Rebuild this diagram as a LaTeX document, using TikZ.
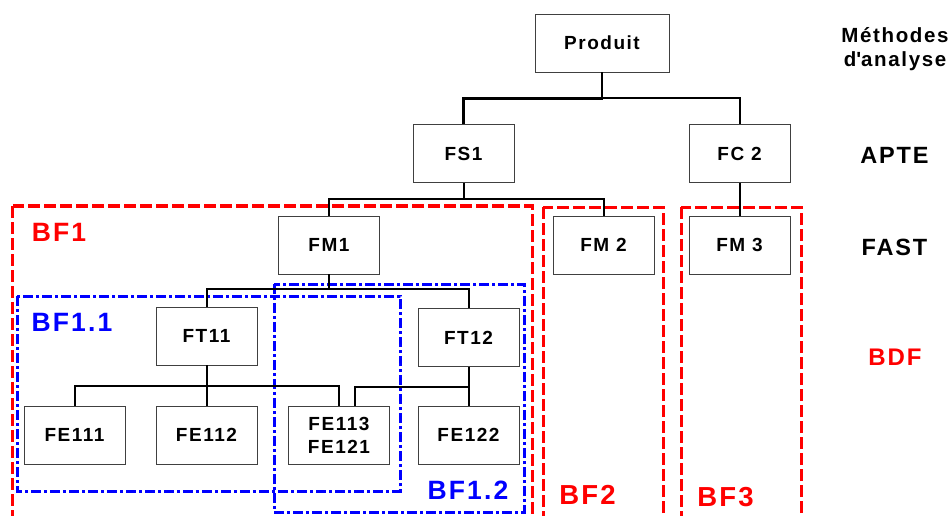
\documentclass[tikz,border=0pt]{standalone}
\usepackage{fontspec}
\setmainfont{Liberation Sans}[LetterSpace=8]
\begin{document}
\begin{tikzpicture}[x=1pt,y=-1pt,
  box/.style={draw=black!75, line width=0.9pt, fill=white, minimum width=101pt, minimum height=58pt, inner sep=0pt, align=center, font=\fontsize{19}{23}\selectfont\bfseries},
  conn/.style={draw=black, line width=2pt},
  bigconn/.style={draw=black, line width=2.4pt},
  redbox/.style={draw=red, line width=3pt, dash pattern=on 12pt off 4pt},
  bluebox/.style={draw=blue, line width=3pt, dash pattern=on 10pt off 3pt on 3pt off 3pt},
  redlbl/.style={text=red, font=\fontsize{26.5}{28}\selectfont\bfseries, inner sep=0pt},
  bluelbl/.style={text=blue, font=\fontsize{26.5}{28}\selectfont\bfseries, inner sep=0pt},
  side/.style={font=\fontsize{23.5}{26}\selectfont\bfseries, inner sep=0pt}
]
\clip (0,0) rectangle (951,516);
\fill[white] (0,0) rectangle (951,516);

% frames
\draw[redbox] (12.5,206) rectangle (532,540);
\draw[redbox] (543,207) rectangle (663,540);
\draw[redbox] (681,207) rectangle (801,540);
\draw[bluebox] (17,296) rectangle (400,491);
\draw[bluebox] (274,284) rectangle (524,512);

% boxes
\node[box, minimum width=134pt] (prod) at (602,43) {Produit};
\node[box] (fs1) at (463.5,153.5) {FS1};
\node[box] (fc2) at (739.5,153.5) {FC 2};
\node[box] (fm1) at (329,245) {FM1};
\node[box] (fm2) at (603.5,245) {FM 2};
\node[box] (fm3) at (739.5,245) {FM 3};
\node[box] (ft11) at (206.5,336) {FT11};
\node[box] (ft12) at (468.5,337.5) {FT12};
\node[box] (fe111) at (74.5,435) {FE111};
\node[box] (fe112) at (206.5,435) {FE112};
\node[box] (fe113) at (339,435) {FE113\\FE121};
\node[box] (fe122) at (468.5,435) {FE122};

% connectors
\draw[bigconn] (prod.south) -- ++(0,26) -| (fs1.north);
\draw[conn] (prod.south) ++(0,26) -| (fc2.north);
\draw[conn] (fc2.south) -- (fm3.north);
\draw[conn] (fs1.south) -- ++(0,16) -| (fm1.north);
\draw[conn] (fs1.south) ++(0,16) -| (fm2.north);
\draw[conn] (fm1.south) -- ++(0,15) -| (ft11.north);
\draw[conn] (fm1.south) ++(0,15) -| (ft12.north);
\draw[conn] (ft11.south) -- ++(0,21) -| (fe111.north);
\draw[conn] (ft11.south) -- (fe112.north);
\draw[conn] (ft11.south) ++(0,21) -| (fe113.north);
\draw[conn] (ft12.south) -- (fe122.north);
\draw[conn] (ft12.south) ++(0,20) -| ([xshift=16pt]fe113.north);

% labels
\node[redlbl] (lbf1) at (59,232) {BF1};
\node[bluelbl] (lbf11) at (72,322) {BF1.1};
\node[bluelbl] (lbf12) at (468,490) {BF1.2};
\node[redlbl, font=\fontsize{27.5}{29}\selectfont\bfseries] (lbf2) at (587.5,495) {BF2};
\node[redlbl, font=\fontsize{27.5}{29}\selectfont\bfseries] (lbf3) at (725.5,497) {BF3};

\node[side, font=\fontsize{20.5}{24}\selectfont\bfseries] (meth) at (895,35) {Méthodes};
\node[side, font=\fontsize{20.5}{24}\selectfont\bfseries] (anal) at (895,61) {d\textquotesingle analyse};
\node[side] (apte) at (894.5,155) {APTE};
\node[side] (fast) at (894.5,247) {FAST};
\node[side, text=red, font=\fontsize{24}{26}\selectfont\bfseries] (bdf) at (895,357) {BDF};
\end{tikzpicture}
\end{document}
